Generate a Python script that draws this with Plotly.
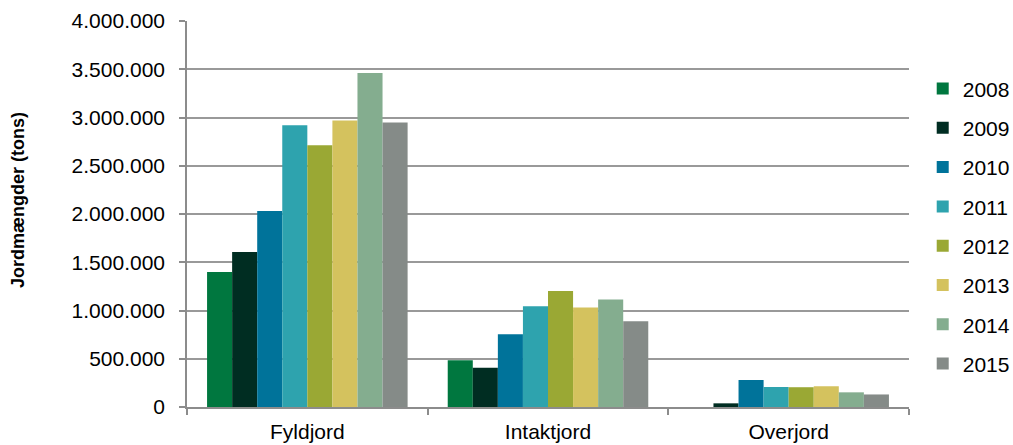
import plotly.graph_objects as go

categories = ["Fyldjord", "Intaktjord", "Overjord"]
years = ["2008", "2009", "2010", "2011", "2012", "2013", "2014", "2015"]
v2008 = [1400000, 485000, 0]
v2009 = [1605000, 408000, 38000]
v2010 = [2030000, 753000, 280000]
v2011 = [2920000, 1043000, 207000]
v2012 = [2712000, 1202000, 205000]
v2013 = [2970000, 1030000, 215000]
v2014 = [3460000, 1113000, 152000]
v2015 = [2947000, 888000, 130000]
series = [v2008, v2009, v2010, v2011, v2012, v2013, v2014, v2015]
colors = ["#00773F", "#002D22", "#00739A", "#2EA3AE", "#9AA834", "#D4C25E", "#84AD8F", "#858B88"]

fig = go.Figure()
for y, vals, c in zip(years, series, colors):
    fig.add_trace(go.Bar(name=y, x=categories, y=vals, marker_color=c,
                         marker_line_width=0, legendgroup=y))

font = "Liberation Sans, Arial, sans-serif"
fig.update_layout(
    width=1013, height=445,
    margin=dict(l=187, r=104, t=21, b=38, autoexpand=False),
    paper_bgcolor="white", plot_bgcolor="white",
    barmode="group", bargap=0.1667, bargroupgap=0,
    separators=",.",
    font=dict(family=font, size=21, color="black"),
    showlegend=True,
    legend=dict(x=1.019, xanchor="left", y=0.468, yanchor="middle",
                traceorder="grouped", tracegroupgap=9,
                font=dict(size=21), itemwidth=30),
    xaxis=dict(showline=True, linecolor="#8c8c8c", linewidth=1.5,
               ticks="outside", tickson="boundaries", ticklen=6,
               tickcolor="#8c8c8c", tickwidth=1.5, ticklabelstandoff=5,
               tickfont=dict(size=21)),
    yaxis=dict(range=[0, 4000000], dtick=500000, tickformat=",d",
               showgrid=True, gridcolor="#999999", gridwidth=1.5,
               showline=True, linecolor="#8c8c8c", linewidth=1.5,
               ticks="outside", ticklen=6, tickcolor="#8c8c8c", tickwidth=1.5,
               ticklabelstandoff=10,
               tickfont=dict(size=21), zeroline=False),
    annotations=[dict(text="<b>Jordmængder (tons)</b>", textangle=-90,
                      xref="paper", yref="paper", x=(18 - 187) / 722, y=(407 - 200) / 386,
                      xanchor="center", yanchor="middle", showarrow=False,
                      font=dict(size=18))],
)

fig.write_html("out.html")
